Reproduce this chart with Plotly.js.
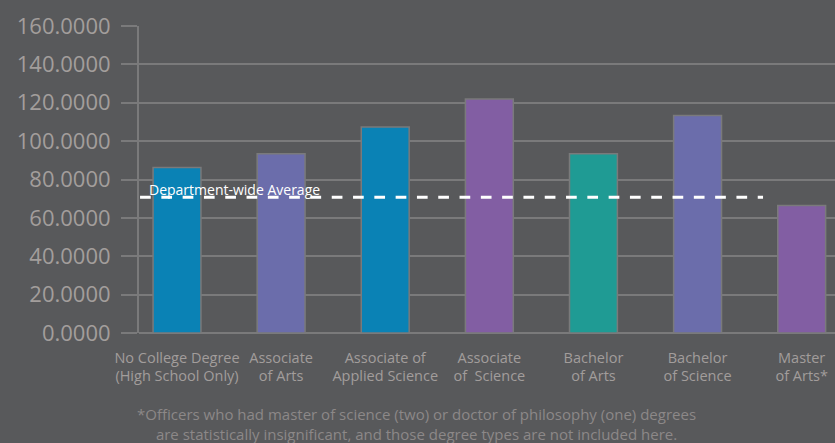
<!DOCTYPE html>
<html>
<head>
<meta charset="utf-8">
<script src="https://cdn.plot.ly/plotly-3.0.1.min.js"></script>
<style>
  html, body { margin: 0; padding: 0; background: #58595b; }
  #chart { width: 835px; height: 443px; }
</style>
</head>
<body>
<div id="chart"></div>
<script>
// Degree categories (two-line tick labels)
const degreeLabels = [
  "No College Degree<br>(High School Only)",
  "Associate<br>of Arts",
  "Associate of<br>Applied Science",
  "Associate<br>of  Science",
  "Bachelor<br>of Arts",
  "Bachelor<br>of Science",
  "Master<br>of Arts*"
];
// Value per degree type
const degreeValues = [86.3, 93.4, 107.4, 122.0, 93.4, 113.3, 66.5];
const barColors = ["#0a82b5", "#6b6dab", "#0a82b5", "#825ea3", "#1f9b94", "#6b6dab", "#825ea3"];
const departmentAverage = 70.7;
const yTicks = [0, 20, 40, 60, 80, 100, 120, 140, 160];

const gridColor = "#7a7a7b";
const labelFont = "Open Sans, Lato, sans-serif";

const trace = {
  type: "bar",
  x: degreeLabels,
  y: degreeValues,
  marker: { color: barColors, line: { color: gridColor, width: 1.5 } },
  hoverinfo: "skip"
};

const layout = {
  width: 835,
  height: 443,
  paper_bgcolor: "#58595b",
  plot_bgcolor: "#58595b",
  margin: { l: 139, r: 0, t: 26, b: 109.5 },
  showlegend: false,
  bargap: 0.54,
  xaxis: {
    type: "category",
    range: [-0.365, 6.32],
    showgrid: false,
    showline: false,
    zeroline: false,
    ticks: "",
    ticklabelstandoff: 14,
    tickfont: { family: labelFont, size: 14.5, color: "#a29d9b" },
    fixedrange: true
  },
  yaxis: {
    range: [0, 160],
    tickvals: yTicks,
    tickformat: ".4f",
    showgrid: true,
    gridcolor: gridColor,
    gridwidth: 2,
    zeroline: true,
    zerolinecolor: gridColor,
    zerolinewidth: 2,
    showline: true,
    linecolor: gridColor,
    linewidth: 2,
    ticks: "outside",
    ticklen: 16,
    tickwidth: 2,
    tickcolor: gridColor,
    ticklabelstandoff: 6,
    tickfont: { family: labelFont, size: 22, color: "#a39e9c" },
    fixedrange: true
  },
  shapes: [{
    type: "line",
    xref: "paper", yref: "y",
    x0: 0.0015, x1: 0.8966,
    y0: departmentAverage, y1: departmentAverage,
    line: { color: "#ffffff", width: 3, dash: "10.7px,10.6px" }
  }],
  annotations: [
    {
      xref: "paper", yref: "y",
      x: 0.0115, y: departmentAverage,
      xanchor: "left", yanchor: "middle",
      yshift: 8,
      showarrow: false,
      text: "Department-wide Average",
      font: { family: labelFont, size: 14, color: "#ffffff" }
    },
    {
      xref: "paper", yref: "paper",
      x: 0.3994, y: -0.2976,
      xanchor: "center", yanchor: "middle",
      showarrow: false,
      align: "center",
      text: "*Officers who had master of science (two) or doctor of philosophy (one) degrees<br>are statistically insignificant, and those degree types are not included here.",
      font: { family: labelFont, size: 15, color: "#8c8888" }
    }
  ]
};

Plotly.newPlot("chart", [trace], layout, { displayModeBar: false, staticPlot: true });
</script>
</body>
</html>
